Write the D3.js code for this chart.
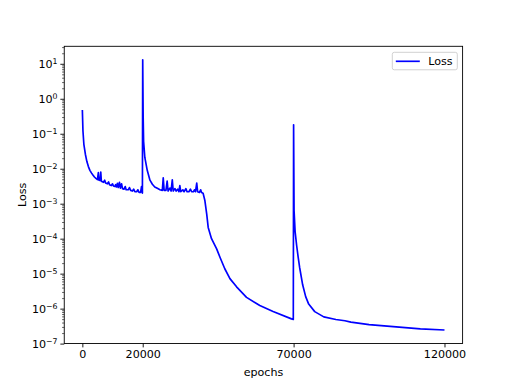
<!DOCTYPE html>
<html lang="en">

<head>
  <meta charset="UTF-8">
  <title>Loss</title>
  <style>
    body { margin: 0; background: #fff; }
    text { font-family: "DejaVu Sans", sans-serif; fill: #000; }
  </style>
</head>

<body>
  <svg id="svg" width="514" height="386"></svg>

  <script src="https://d3js.org/d3.v7.min.js"></script>
  <script>
    // training log
    const epochs = [
      0, 200, 500, 1000, 1500, 2000, 2500, 3000, 3500, 4000, 4500, 5000, 5300, 5500, 5900, 6100, 6300,
      7000, 7400, 7700, 8300, 8700, 9000, 9600, 10000, 10300, 10800, 11000, 11300, 11600, 11900,
      12300, 12600, 13000, 13300, 13800, 14200, 14500, 15200, 15600, 16000, 16600, 17000, 17400,
      18000, 18400, 18800, 19300, 19600, 19900,
      20000, 20150, 20300, 20700, 21500, 22400, 23200, 24000, 25000, 25700, 26500, 26800, 27100,
      27700, 28100, 28400, 29000, 29400, 29800, 30100, 30700, 31100, 31600, 32000, 32300, 32600,
      33300, 33700, 34300, 34700, 35300, 35800, 36200, 36800, 37200, 37500, 37900, 38200, 38800,
      39200, 39500, 40000,
      40600, 41200, 41700, 42800, 44500, 45600, 47200, 48900, 51100, 54400, 58800, 63200, 69300, 69900,
      70000, 70150, 70500, 71000, 71500, 72000, 73000, 74000, 75000, 77000, 80000, 84000, 87000,
      89000, 92000, 95000, 100000, 106000, 112000, 120000
    ]
    const loss = [
      0.48, 0.12, 0.05, 0.026, 0.016, 0.0115, 0.009, 0.0076, 0.0066, 0.0058, 0.0053, 0.0049, 0.0078, 0.0047, 0.0046, 0.0080, 0.0044,
      0.0041, 0.0047, 0.0039, 0.0037, 0.0042, 0.0035, 0.0033, 0.0037, 0.0032, 0.0031, 0.0035, 0.0030, 0.0038, 0.0029,
      0.0041, 0.0028, 0.0037, 0.0027, 0.0026, 0.0031, 0.0025, 0.0025, 0.0029, 0.0024, 0.0023, 0.0026, 0.0022,
      0.0022, 0.0025, 0.0021, 0.0021, 0.0031, 0.0020,
      13, 0.3, 0.06, 0.021, 0.009, 0.0047, 0.0036, 0.0030, 0.0027, 0.0025, 0.0024, 0.0055, 0.0024,
      0.0024, 0.0044, 0.0023, 0.0028, 0.0023, 0.0048, 0.0023, 0.0027, 0.0023, 0.0026, 0.0022, 0.0033, 0.0022,
      0.0025, 0.0022, 0.0027, 0.0022, 0.0022, 0.0026, 0.0022, 0.0022, 0.0025, 0.0022, 0.0039, 0.0022, 0.0021,
      0.0025, 0.0021, 0.0020,
      1.23e-3, 5.1e-4, 2.1e-4, 1.0e-4, 5.1e-5, 2.95e-5, 1.38e-5, 7.2e-6, 4.2e-6, 2.1e-6, 1.23e-6, 8.3e-7, 5.1e-7, 4.9e-7,
      0.18, 6.5e-4, 1.6e-4, 6.5e-5, 3e-5, 1.5e-5, 4.8e-6, 2.2e-6, 1.35e-6, 8.2e-7, 5.8e-7, 4.9e-7, 4.5e-7,
      4.1e-7, 3.8e-7, 3.5e-7, 3.2e-7, 2.9e-7, 2.65e-7, 2.45e-7
    ]
    const xTicks = [0, 20000, 70000, 120000]
    const yExponents = [-7, -6, -5, -4, -3, -2, -1, 0, 1]
    const seriesName = 'Loss'
    const xTitle = 'epochs'
    const yTitle = 'Loss'

    const mLeft = 64.25, mRight = 462.6, mTop = 46.3, mBottom = 343.5
    const svg = d3.select('#svg')

    const data = epochs.map((e, i) => ({ x: e, y: loss[i] }))

    // matplotlib style 5% margins
    const xExt = d3.extent(epochs)
    const xPad = (xExt[1] - xExt[0]) * 0.05
    const xScale = d3.scaleLinear()
      .domain([xExt[0] - xPad, xExt[1] + xPad])
      .range([mLeft, mRight])

    const lExt = d3.extent(loss).map(Math.log10)
    const lPad = (lExt[1] - lExt[0]) * 0.05
    const yScale = d3.scaleLog()
      .domain([Math.pow(10, lExt[0] - lPad), Math.pow(10, lExt[1] + lPad)])
      .range([mBottom, mTop])

    // the curve
    const line = d3.line().x(d => xScale(d.x)).y(d => yScale(d.y))
    svg.append('path')
      .datum(data)
      .attr('d', line)
      .attr('fill', 'none')
      .attr('stroke', '#0000ff')
      .attr('stroke-width', 1.67)
      .attr('stroke-linejoin', 'round')

    // x axis
    const xAxis = svg.append('g')
      .attr('transform', `translate(0,${mBottom})`)
      .call(d3.axisBottom(xScale).tickValues(xTicks).tickSize(3.9).tickPadding(2.8).tickFormat(d3.format('d')))
    xAxis.select('.domain').remove()
    xAxis.selectAll('line').attr('stroke', '#000').attr('stroke-width', 0.9)
    xAxis.selectAll('text').attr('font-size', 11.1).attr('font-family', '"DejaVu Sans", sans-serif').attr('fill', '#000')

    // y axis, major + minor log ticks
    const minor = []
    yExponents.forEach(e => { for (let k = 2; k < 10; k++) minor.push(k * Math.pow(10, e)) })
    const [yLo, yHi] = yScale.domain()
    const minorIn = minor.filter(v => v >= yLo && v <= yHi)

    const yMinor = svg.append('g')
      .attr('transform', `translate(${mLeft},0)`)
      .call(d3.axisLeft(yScale).tickValues(minorIn).tickSize(2.2).tickFormat(''))
    yMinor.select('.domain').remove()
    yMinor.selectAll('line').attr('stroke', '#000').attr('stroke-width', 0.6)

    const yMajor = svg.append('g')
      .attr('transform', `translate(${mLeft},0)`)
      .call(d3.axisLeft(yScale).tickValues(yExponents.map(e => Math.pow(10, e))).tickSize(3.9).tickFormat(''))
    yMajor.select('.domain').remove()
    yMajor.selectAll('line').attr('stroke', '#000').attr('stroke-width', 0.9)

    yExponents.forEach(e => {
      const t = svg.append('text')
        .attr('x', mLeft - 6.7)
        .attr('y', yScale(Math.pow(10, e)) + 4.5)
        .attr('text-anchor', 'end')
        .attr('font-size', 11.1)
      t.append('tspan').text('10')
      t.append('tspan').attr('dy', -4.5).attr('font-size', 7.8).text(e < 0 ? '\u2212' + (-e) : e)
    })

    // frame
    svg.append('rect')
      .attr('x', mLeft).attr('y', mTop)
      .attr('width', mRight - mLeft).attr('height', mBottom - mTop)
      .attr('fill', 'none').attr('stroke', '#000').attr('stroke-width', 0.9)

    // titles
    svg.append('text')
      .attr('x', (mLeft + mRight) / 2).attr('y', 376)
      .attr('text-anchor', 'middle').attr('font-size', 11.1)
      .text(xTitle)
    svg.append('text')
      .attr('transform', `translate(26,${(mTop + mBottom) / 2}) rotate(-90)`)
      .attr('text-anchor', 'middle').attr('font-size', 11.1)
      .text(yTitle)

    // legend
    const lg = svg.append('g').attr('transform', 'translate(392.3,52.3)')
    lg.append('rect')
      .attr('width', 65).attr('height', 17.5).attr('rx', 2)
      .attr('fill', '#fff').attr('fill-opacity', 0.8)
      .attr('stroke', '#ccc').attr('stroke-width', 0.9)
    lg.append('line')
      .attr('x1', 3.5).attr('x2', 27.5).attr('y1', 9).attr('y2', 9)
      .attr('stroke', '#0000ff').attr('stroke-width', 1.67)
    lg.append('text')
      .attr('x', 36).attr('y', 13)
      .attr('font-size', 11.1)
      .text(seriesName)
  </script>
</body>

</html>
